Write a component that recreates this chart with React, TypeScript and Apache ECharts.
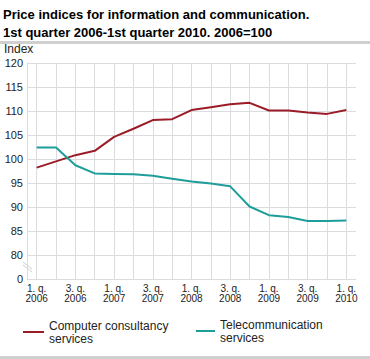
import React, { useEffect, useRef } from "react";
import * as echarts from "echarts";

const categories = [
  "1. q. 2006", "2. q. 2006", "3. q. 2006", "4. q. 2006",
  "1. q. 2007", "2. q. 2007", "3. q. 2007", "4. q. 2007",
  "1. q. 2008", "2. q. 2008", "3. q. 2008", "4. q. 2008",
  "1. q. 2009", "2. q. 2009", "3. q. 2009", "4. q. 2009",
  "1. q. 2010",
];
const computerConsultancy = [
  98.2, 99.5, 100.8, 101.7, 104.6, 106.3, 108.1, 108.3,
  110.2, 110.8, 111.4, 111.7, 110.1, 110.1, 109.7, 109.4, 110.2,
];
const telecommunication = [
  102.4, 102.4, 98.7, 97.0, 96.9, 96.8, 96.5, 95.9,
  95.3, 94.9, 94.3, 90.1, 88.3, 87.9, 87.1, 87.1, 87.2,
];
const seriesNames = ["Computer consultancy services", "Telecommunication services"];
const yTicks = { min: 75, max: 120, interval: 5 };

const RED = "#9b1c27";
const TEAL = "#1e9e9a";
const GRID = "#dcdce0";
const FONT = "Liberation Sans, Arial, sans-serif";

export default function App() {
  const ref = useRef<HTMLDivElement>(null);
  useEffect(() => {
    if (!ref.current) return;
    const chart = echarts.init(ref.current, null, { renderer: "svg" });
    chart.setOption({
      animation: false,
      backgroundColor: "#fff",
      textStyle: { fontFamily: FONT },
      title: {
        text: "Price indices for information and communication.\n1st quarter 2006-1st quarter 2010. 2006=100",
        left: 3,
        top: 5,
        padding: 0,
        textStyle: {
          fontSize: 13,
          fontWeight: "bold",
          color: "#000",
          lineHeight: 18,
          fontFamily: FONT,
        },
      },
      grid: { left: 27, right: 14, top: 63, bottom: 80, containLabel: false },
      xAxis: {
        type: "category",
        data: categories,
        boundaryGap: true,
        axisLine: { show: true, lineStyle: { color: GRID } },
        axisTick: { show: false },
        splitLine: {
          show: true,
          interval: 0,
          alignWithLabel: true,
          lineStyle: { color: GRID, width: 1 },
        },
        axisLabel: {
          interval: 1,
          fontSize: 10,
          lineHeight: 10,
          margin: 4,
          color: "#222",
          formatter: (v: string) => v.replace(/ (\d{4})$/, "\n$1"),
        },
      },
      yAxis: {
        type: "value",
        min: yTicks.min,
        max: yTicks.max,
        interval: yTicks.interval,
        axisLine: { show: true, lineStyle: { color: GRID } },
        axisTick: { show: false },
        splitLine: { show: true, lineStyle: { color: GRID, width: 1 } },
        axisLabel: {
          fontSize: 11,
          color: "#222",
          margin: 4,
          formatter: (v: number) => (v === yTicks.min ? "0" : String(v)),
        },
      },
      legend: [
        {
          data: [seriesNames[0]],
          left: 23,
          top: 319,
          padding: 0,
          itemWidth: 21,
          itemHeight: 2,
          icon: "rect",
          formatter: () => "Computer consultancy\nservices",
          textStyle: { fontSize: 12, lineHeight: 13, color: "#222" },
        },
        {
          data: [seriesNames[1]],
          left: 196,
          top: 318,
          padding: 0,
          itemWidth: 19,
          itemHeight: 2,
          icon: "rect",
          formatter: () => "Telecommunication\nservices",
          textStyle: { fontSize: 12, lineHeight: 13, color: "#222" },
        },
      ],
      graphic: [
        { type: "rect", left: 0, top: 41, shape: { width: 370, height: 3 }, style: { fill: "#d0d0d0" } },
        { type: "rect", left: 0, top: 356, shape: { width: 370, height: 3 }, style: { fill: "#d0d0d0" } },
        {
          type: "text",
          left: 4,
          top: 43,
          style: { text: "Index", fontSize: 12, fill: "#222", fontFamily: FONT },
        },
        { type: "line", shape: { x1: 23, y1: 262, x2: 32, y2: 269 }, style: { stroke: "#cfcfd4", lineWidth: 1 } },
        { type: "line", shape: { x1: 23, y1: 265, x2: 32, y2: 272 }, style: { stroke: "#cfcfd4", lineWidth: 1 } },
      ],
      series: [
        {
          name: seriesNames[0],
          type: "line",
          data: computerConsultancy,
          symbol: "none",
          lineStyle: { color: RED, width: 2 },
          itemStyle: { color: RED },
        },
        {
          name: seriesNames[1],
          type: "line",
          data: telecommunication,
          symbol: "none",
          lineStyle: { color: TEAL, width: 2 },
          itemStyle: { color: TEAL },
        },
      ],
    });
    return () => chart.dispose();
  }, []);
  return (
    <div
      ref={ref}
      style={{ position: "fixed", left: 0, top: 0, width: 370, height: 359 }}
    />
  );
}
